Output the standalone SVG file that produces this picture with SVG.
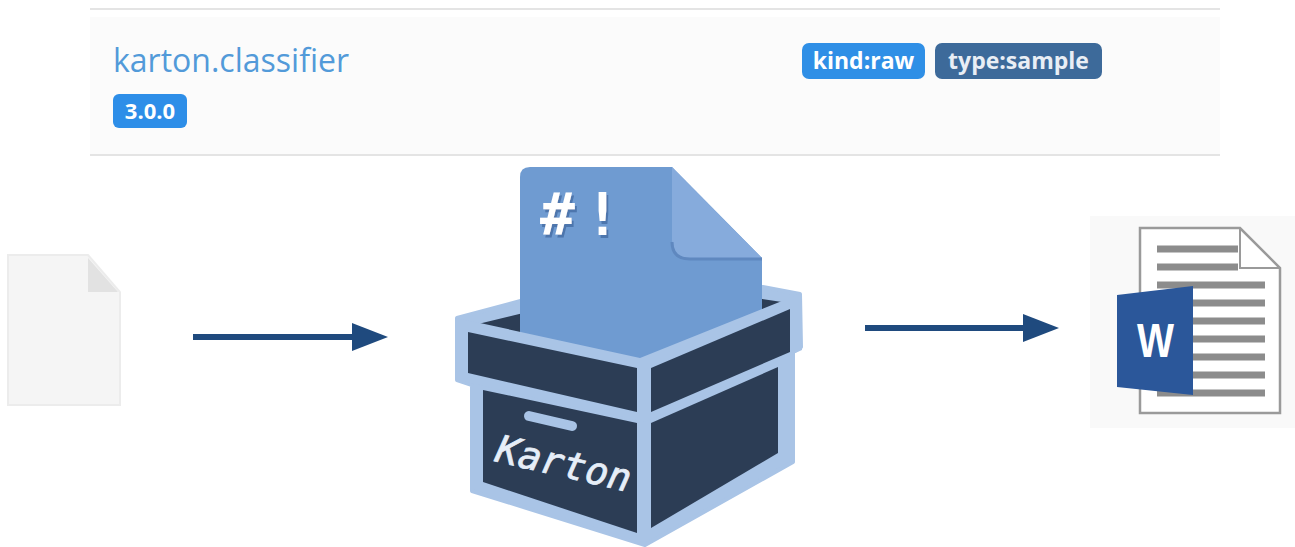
<svg xmlns="http://www.w3.org/2000/svg" width="1295" height="547" viewBox="0 0 1295 547">
  <style>
    .rule { stroke: #e4e4e4; stroke-width: 2; }
    .badge-text { font-family: "Open Sans", "Noto Sans", sans-serif; font-weight: bold; fill: #ffffff; text-anchor: middle; }
    .navy { fill: #2c3d55; }
    .rim { fill: #a9c4e6; }
    .flow { stroke: #1f4a7e; stroke-width: 6; fill: none; }
    .doc-line { stroke: #8c8c8c; stroke-width: 7; }
  </style>
  <defs>
    <marker id="arrowhead" markerUnits="userSpaceOnUse" markerWidth="36" markerHeight="28" refX="0" refY="14" orient="auto">
      <path d="M0,0 L36,14 L0,28 Z" fill="#1f4a7e"/>
    </marker>
    <filter id="pixel-shadow" x="-20%" y="-20%" width="140%" height="140%">
      <feDropShadow dx="2" dy="3" stdDeviation="0" flood-color="#4d76ad" flood-opacity="1"/>
    </filter>
  </defs>

  <rect width="1295" height="547" fill="#ffffff"/>

  <!-- plugin card header -->
  <g id="plugin-card">
    <rect x="90" y="17" width="1130" height="137" fill="#fbfbfb"/>
    <line class="rule" x1="90" y1="9" x2="1220" y2="9"/>
    <line class="rule" x1="90" y1="155" x2="1220" y2="155"/>
    <text x="113" y="72" font-family="'Open Sans', 'Noto Sans', sans-serif" font-size="32" fill="#529ad9">karton.classifier</text>
    <rect x="113" y="94" width="74" height="34" rx="6" fill="#2d8ee8"/>
    <text class="badge-text" x="150" y="119" font-size="22">3.0.0</text>
    <rect x="802" y="43" width="123" height="36" rx="7" fill="#2f8fe6"/>
    <text class="badge-text" x="863.5" y="69" font-size="23">kind:raw</text>
    <rect x="935" y="43" width="167" height="36" rx="7" fill="#3d6a9a"/>
    <text class="badge-text" x="1018.5" y="69" font-size="23" style="fill:#e9eef5">type:sample</text>
  </g>

  <!-- blank input file -->
  <g id="input-file">
    <path d="M8,255 H88 L120,292 V405 H8 Z" fill="#f5f5f5" stroke="#ececec" stroke-width="2"/>
    <path d="M88,258 V292 H118 Z" fill="#e2e2e2"/>
  </g>

  <!-- connectors -->
  <g id="connectors">
    <line class="flow" x1="193" y1="337" x2="352" y2="337" marker-end="url(#arrowhead)"/>
    <line class="flow" x1="865" y1="328" x2="1023" y2="328" marker-end="url(#arrowhead)"/>
  </g>

  <!-- Karton box with a script document -->
  <g id="karton-box">
    <!-- outer silhouette -->
    <path class="rim" stroke="#a9c4e6" stroke-width="4" stroke-linejoin="round" d="M457,318 L650,266 L800,294 L801,347 L793,352 V462 L645,545 L472,491 V385 L457,380 Z"/>
    <!-- box opening -->
    <path class="navy" d="M478,324 L650,282 L782,302 L640,358 Z"/>
    <!-- script document, its lower edge tucked under the front rim -->
    <path d="M530,167 H672 L762,258 V313 L640,361 L520,335 V177 Q520,167 530,167 Z" fill="#6f9bd1"/>
    <path d="M672,167 L762,258 H690 Q672,258 672,240 Z" fill="#86abdc"/>
    <path d="M672,242 Q672,259 690,259 H762" fill="none" stroke="#5f88bf" stroke-width="3"/>
    <text y="235" font-family="'DejaVu Sans Mono', monospace" font-weight="bold" font-size="58" fill="#ffffff" filter="url(#pixel-shadow)"><tspan x="540">#</tspan><tspan x="585">!</tspan></text>
    <!-- front rim over the document -->
    <path class="rim" d="M455,318 L480,323 L640,358 L782,301 L801,293 L802,350 L645,422 L457,380 Z"/>
    <!-- lid bands -->
    <path class="navy" d="M468,332 L637,368 L637,412 L468,373 Z"/>
    <path class="navy" d="M651,368 L790,309 L790,352 L651,412 Z"/>
    <!-- front and side faces -->
    <path class="navy" d="M483,390 L637,423 L637,533 L483,482 Z"/>
    <path class="navy" d="M651,423 L778,367 L778,453 L651,528 Z"/>
    <!-- handle slot -->
    <line x1="529" y1="416" x2="572" y2="426" stroke="#a9c4e6" stroke-width="10" stroke-linecap="round"/>
    <text x="0" y="0" transform="translate(494,461) rotate(13)" font-family="'DejaVu Sans Mono', monospace" font-style="oblique" font-size="38" fill="#e6eef8" stroke="#e6eef8" stroke-width="0.8">Karton</text>
  </g>

  <!-- Word output document -->
  <g id="word-file">
    <rect x="1090" y="216" width="205" height="212" fill="#f9f9f9"/>
    <path d="M1140,228 H1240 L1280,268 V413 H1140 Z" fill="#ffffff" stroke="#9a9a9a" stroke-width="2.5"/>
    <path d="M1240,228 V268 H1280" fill="none" stroke="#9a9a9a" stroke-width="2"/>
    <line class="doc-line" x1="1157" y1="249" x2="1238" y2="249"/>
    <line class="doc-line" x1="1157" y1="267" x2="1238" y2="267"/>
    <line class="doc-line" x1="1157" y1="285" x2="1265" y2="285"/>
    <line class="doc-line" x1="1157" y1="303" x2="1265" y2="303"/>
    <line class="doc-line" x1="1157" y1="321" x2="1265" y2="321"/>
    <line class="doc-line" x1="1157" y1="339" x2="1265" y2="339"/>
    <line class="doc-line" x1="1157" y1="357" x2="1265" y2="357"/>
    <line class="doc-line" x1="1157" y1="375" x2="1265" y2="375"/>
    <line class="doc-line" x1="1157" y1="393" x2="1265" y2="393"/>
    <path d="M1117,295 L1193,286 V395 L1117,387 Z" fill="#2b579a"/>
    <text x="1137" y="357" font-family="'Liberation Sans', Arial, sans-serif" font-weight="bold" font-size="48" fill="#ffffff" textLength="37" lengthAdjust="spacingAndGlyphs">W</text>
  </g>
</svg>
